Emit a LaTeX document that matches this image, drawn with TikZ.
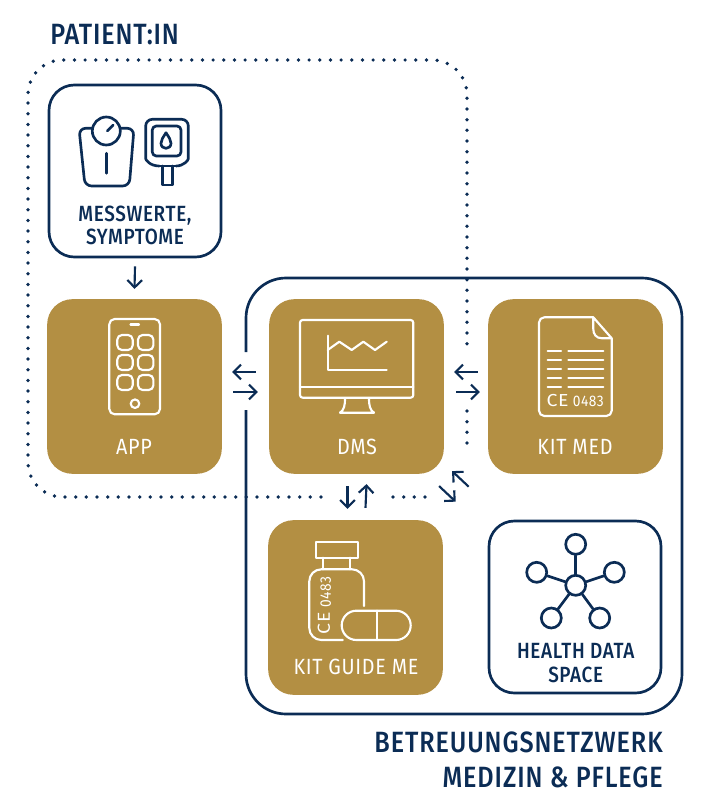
\documentclass[tikz,border=0pt]{standalone}
\usepackage{fontspec}
\setmainfont[FakeStretch=0.86,LetterSpace=3,UprightFont={* Medium}]{Fira Sans}
\newfontfamily\plainfont[FakeStretch=0.9,LetterSpace=3]{Fira Sans}
\usetikzlibrary{arrows.meta}
\definecolor{navy}{HTML}{0B2C55}
\definecolor{gold}{HTML}{B38F43}
\tikzset{
	goldbox/.style={fill=gold,minimum size=131pt,rounded corners=19pt,inner sep=0pt},
	navybox/.style={draw=navy,line width=2pt,minimum size=129pt,rounded corners=19pt,inner sep=0pt},
	whitetext/.style={text=white,font=\plainfont\fontsize{16.5}{19}\selectfont,inner sep=0pt},
	navytext/.style={text=navy,font=\fontsize{16.5}{17.5}\selectfont,align=center,inner sep=0pt},
	headtext/.style={text=navy,font=\fontsize{22}{26}\selectfont,inner sep=0pt},
	marktext/.style={text=white,font=\plainfont\fontsize{13}{13}\selectfont,inner sep=0pt},
	numtext/.style={text=white,font=\plainfont\fontsize{11.5}{12}\selectfont,inner sep=0pt},
	arrowline/.style={draw=navy,line width=1.6pt,-{Straight Barb[length=5.5pt,width=11pt,line width=1.6pt]}},
	iconwhite/.style={draw=white,line width=1.6pt,line cap=round,line join=round},
	iconnavy/.style={draw=navy,line width=2pt,line cap=round,line join=round},
	dotline/.style={draw=navy,line width=2.8pt,line cap=round,dash pattern=on 0pt off 8pt},
	hub/.style={circle,draw=navy,line width=2pt,fill=white,minimum size=15pt,inner sep=0pt},
}
\begin{document}
\begin{tikzpicture}[x=0.75pt,y=-0.75pt]
	\useasboundingbox (0,0) rectangle (720,796);
	% dotted frame and solid frame
	\draw[dotline,rounded corners=26pt] (321,497) -- (28,497) -- (28,60) -- (467,60) -- (467,347);
	\draw[dotline] (467,411) -- (467,453);
	\draw[dotline] (393,497) -- (425,497);
	\draw[navy,line width=2pt,rounded corners=30pt] (246,352) -- (246,278) -- (682,278) -- (682,714) -- (246,714) -- (246,410);
	% boxes
	\node[navybox] (mess) at (135,171) {};
	\node[goldbox] (app) at (134.5,386.5) {};
	\node[goldbox] (dms) at (356.5,386.5) {};
	\node[goldbox] (med) at (575.5,386.5) {};
	\node[goldbox] (guide) at (355.5,607.5) {};
	\node[navybox] (space) at (575,607) {};
	% labels
	\node[headtext,anchor=west] (patient) at (50,35) {PATIENT:IN};
	\node[headtext,anchor=east] (netz) at (663,742) {BETREUUNGSNETZWERK};
	\node[headtext,anchor=east] (pflege) at (663,777) {MEDIZIN \& PFLEGE};
	\node[navytext] (messlabel) at (135,225.5) {MESSWERTE,\\SYMPTOME};
	\node[whitetext] (applabel) at (134,446.5) {APP};
	\node[whitetext] (dmslabel) at (357,446.5) {DMS};
	\node[whitetext] (medlabel) at (575,446.5) {KIT MED};
	\node[whitetext] (guidelabel) at (356,667) {KIT GUIDE ME};
	\node[navytext] (spacelabel) at (575.7,663) {HEALTH DATA\\SPACE};
	% arrows
	\draw[arrowline] ([shift={(0,8)}]mess.south) -- ([shift={(0,-10)}]app.north);
	\draw[arrowline] ([shift={(-13,-14.5)}]dms.west) -- ([shift={(10,-14.5)}]app.east);
	\draw[arrowline] ([shift={(11,5.5)}]app.east) -- ([shift={(-11,5.5)}]dms.west);
	\draw[arrowline] ([shift={(-10,-14.5)}]med.west) -- ([shift={(10,-14.5)}]dms.east);
	\draw[arrowline] ([shift={(12,5.5)}]dms.east) -- ([shift={(-8,5.5)}]med.west);
	\draw[arrowline] ([shift={(-9,12)}]dms.south) -- ([shift={(-8,-11)}]guide.north);
	\draw[arrowline] ([shift={(10,-12)}]guide.north) -- ([shift={(10,10)}]dms.south);
	\draw[arrowline] ([shift={(-19,-33)}]space.north west) -- ([shift={(8,-3)}]dms.south east);
	\draw[arrowline] ([shift={(-5,12)}]dms.south east) -- ([shift={(-32,-18)}]space.north west);
	% scale and meter
	\draw[iconnavy,rounded corners=5pt] (92,128.3) -- (79,128.3) -- (85,186) -- (129.3,186) -- (134,128.3) -- (120.5,128.3);
	\draw[iconnavy] (106.3,131) circle (10.5pt);
	\draw[iconnavy] (107.3,131) -- (113.3,125);
	\draw[iconnavy] (106.3,153.3) -- (106.3,173.3);
	\draw[iconnavy,rounded corners=5pt] (159.3,166) .. controls (150,166) and (145.7,160) .. (145.7,152) -- (145.7,119.3) -- (188.3,119.3) -- (188.3,152) .. controls (188.3,160) and (184,166) .. (176,166);
	\draw[iconnavy] (159.3,166) -- (176,166);
	\draw[iconnavy] (162.3,166) -- (162.3,185) -- (172.7,185) -- (172.7,166);
	\draw[iconnavy,rounded corners=3pt] (152.3,126) rectangle (181,156);
	\draw[iconnavy] (166,132.7) .. controls (163,137.5) and (161,140) .. (161,143.3) .. controls (161,150) and (171,150) .. (171,143.3) .. controls (171,140) and (169,137.5) .. (166,132.7) -- cycle;
	% phone
	\draw[iconwhite,rounded corners=4pt] (109.3,319) rectangle (160,414.3);
	\draw[iconwhite] (130.5,324.5) -- (139,324.5);
	\foreach \x in {117.3,138}
	\foreach \y in {335,355,375}
	{
		\draw[iconwhite,rounded corners=3.5pt] (\x,\y) rectangle (\x+15.4,\y+15);
	}
	\draw[iconwhite] (135,403.7) circle (3.2pt);
	% monitor
	\draw[iconwhite,rounded corners=2pt] (300,320) rectangle (413.3,397.7);
	\draw[iconwhite] (300,386.7) -- (413.3,386.7);
	\draw[iconwhite] (345,398) .. controls (345,406) and (344,410) .. (340,412.7) -- (374,412.7) .. controls (370,410) and (369,406) .. (369,398);
	\draw[iconwhite] (327.7,335.7) -- (327.7,370) -- (386.7,370);
	\draw[iconwhite] (327.7,350) -- (339.3,341.7) -- (351.7,350) -- (363.3,341.7) -- (375,350) -- (386.7,341.7);
	% document
	\draw[iconwhite,rounded corners=4pt] (593.3,317.3) -- (539,317.3) -- (539,416) -- (611.7,416) -- (611.7,338.3);
	\draw[iconwhite] (593.3,317.3) -- (611.7,338.3) -- (602,338.3) .. controls (596,338.3) and (593.3,334) .. (593.3,329) -- cycle;
	\foreach \y in {351,360.3,369,378,386.7}
	{
		\draw[iconwhite] (547.7,\y) -- (561,\y);
		\draw[iconwhite] (568.3,\y) -- (603.3,\y);
	}
	\node[marktext] (medce) at (557.5,401) {\scalebox{1.25}[1]{CE}};
	\node[numtext] (mednum) at (588.3,401) {0483};
	% bottle and pill
	\draw[iconwhite] (315.7,542.3) rectangle (357.7,557.7);
	\draw[iconwhite] (323.3,557.7) -- (323.3,569.3);
	\draw[iconwhite] (350,557.7) -- (350,569.3);
	\draw[iconwhite,rounded corners=9pt] (364,606) -- (364,569.3) -- (309.3,569.3) -- (309.3,640) -- (342.7,640);
	\draw[iconwhite,rounded corners=11pt] (341.7,610.7) rectangle (410.7,640);
	\draw[iconwhite] (376.7,610.7) -- (376.7,640);
	\node[numtext,rotate=90] (guidenum) at (325.7,591.7) {0483};
	\node[marktext,rotate=90] (guidece) at (324,623.3) {\scalebox{1.25}[1]{CE}};
	% network
	\node[hub] (centre) at (575.7,585.3) {};
	\foreach \n/\p in {top/{575.7,544.3},left/{536.7,572.3},right/{614.3,572.3},lowleft/{551.3,618},lowright/{599.7,618}}
	{
		\node[hub] (\n) at (\p) {};
		\draw[iconnavy] (centre) -- (\n);
	}
\end{tikzpicture}
\end{document}
